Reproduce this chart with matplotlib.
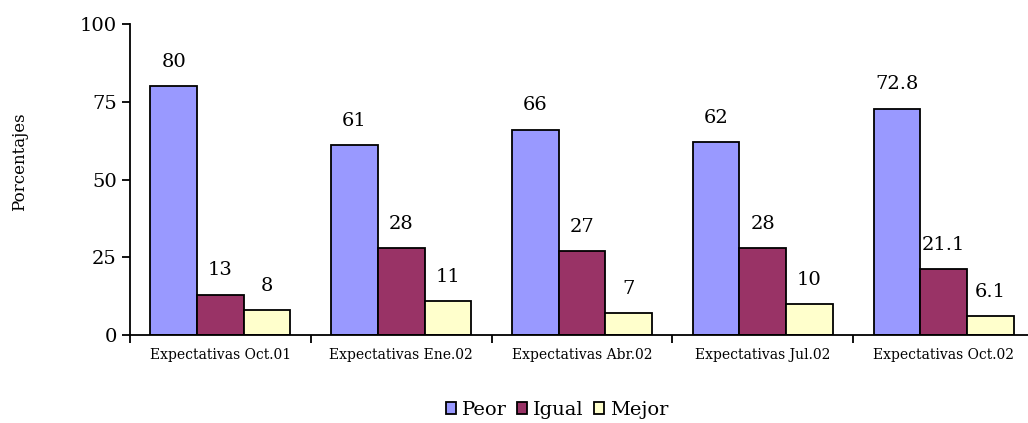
import numpy as np
import matplotlib.pyplot as plt

categorias = ['Expectativas Oct.01', 'Expectativas Ene.02', 'Expectativas Abr.02',
              'Expectativas Jul.02', 'Expectativas Oct.02']
peor = [80, 61, 66, 62, 72.8]
igual = [13, 28, 27, 28, 21.1]
mejor = [8, 11, 7, 10, 6.1]
series = ['Peor', 'Igual', 'Mejor']
colores = ['#9999FF', '#993366', '#FFFFCC']

plt.rcParams['font.family'] = ['DejaVu Serif']

fig = plt.figure(figsize=(10.28, 4.23), dpi=100)
ax = fig.add_axes([130/1028, 1-335/423, 904/1028, 311/423])

x = np.arange(len(categorias))
w = 0.258
for i, (vals, nombre, c) in enumerate(zip([peor, igual, mejor], series, colores)):
    pos = x + (i - 1) * w
    ax.bar(pos, vals, width=w, color=c, edgecolor='black', linewidth=1.3, label=nombre)
    for px, v in zip(pos, vals):
        ax.annotate(f'{v:g}', (px, v), xytext=(0, 11), textcoords='offset points',
                    ha='center', va='bottom', fontsize=14)

ax.set_xlim(-0.5, len(categorias) - 0.5)
ax.set_ylim(0, 100)
ax.set_yticks([0, 25, 50, 75, 100])
ax.tick_params(axis='y', labelsize=14, length=6, width=1.3, direction='out')
ax.set_xticks(np.arange(len(categorias) + 1) - 0.5)
ax.set_xticklabels([])
ax.set_xticks(x, minor=True)
ax.set_xticklabels(categorias, minor=True, fontsize=10)
ax.tick_params(axis='x', which='major', length=6, width=1.3, direction='out')
ax.tick_params(axis='x', which='minor', length=0, pad=9)
for s in ['top', 'right']:
    ax.spines[s].set_visible(False)
for s in ['left', 'bottom']:
    ax.spines[s].set_linewidth(1.3)

fig.text(20/1028, 1-162/423, 'Porcentajes', rotation=90, ha='center', va='center', fontsize=12)

leg = fig.legend(loc='center', bbox_to_anchor=(557/1028, 1-410/423), ncol=3, frameon=False,
                 fontsize=14, handlelength=0.55, handleheight=0.55, handletextpad=0.3,
                 columnspacing=0.5)

fig.savefig('out.png', dpi=100)
